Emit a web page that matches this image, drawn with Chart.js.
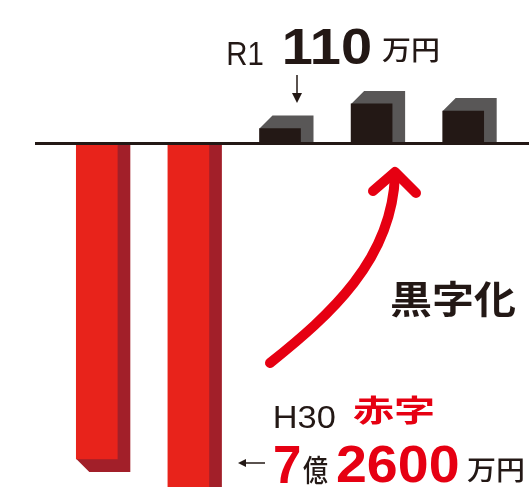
<!DOCTYPE html>
<html>
<head>
<meta charset="utf-8">
<script src="https://cdn.jsdelivr.net/npm/chart.js@4/dist/chart.umd.min.js"></script>
<style>
  html, body { margin: 0; padding: 0; background: #fff; }
  #wrap { width: 529px; height: 487px; }
</style>
</head>
<body>
<div id="wrap"><canvas id="myChart" width="529" height="487"></canvas></div>
<script>
// fiscal years (H29 .. R3), values in 万円 as drawn (the picture is not to scale)
let years = ["H29", "H30", "R1", "R2", "R3"];
let values = [-2314, -72600, 110, 290, 238];

const DEPTH = 13;
const RED = "#e8231b", RED_SIDE = "#a21f29";
const DARK = "#231815", DARK_SIDE = "#595757";
const TEXT_RED = "#e60012";

// back faces for the fake 3D look, drawn before the bars
const depthPlugin = {
  id: "depth",
  beforeDatasetsDraw(chart) {
    const ctx = chart.ctx;
    const meta = chart.getDatasetMeta(0);
    ctx.save();
    ctx.beginPath();
    ctx.rect(0, chart.chartArea.top, chart.width, chart.chartArea.bottom);
    ctx.clip();
    meta.data.forEach((bar, i) => {
      const l = bar.x - bar.width / 2, r = bar.x + bar.width / 2;
      const dir = values[i] < 0 ? 1 : -1;
      ctx.fillStyle = values[i] < 0 ? RED_SIDE : DARK_SIDE;
      ctx.beginPath();
      ctx.moveTo(l, bar.y);
      ctx.lineTo(l + DEPTH, bar.y + dir * DEPTH);
      ctx.lineTo(r + DEPTH, bar.y + dir * DEPTH);
      ctx.lineTo(r + DEPTH, bar.base);
      ctx.lineTo(r, bar.base);
      ctx.closePath();
      ctx.fill();
    });
    ctx.restore();
  },
  afterDatasetsDraw(chart) {
    const ctx = chart.ctx;
    const y0 = chart.scales.y.getPixelForValue(0);
    ctx.save();
    ctx.strokeStyle = DARK;
    ctx.lineWidth = 3;
    ctx.beginPath();
    ctx.moveTo(35, y0);
    ctx.lineTo(529, y0);
    ctx.stroke();
    ctx.restore();
  }
};

// draw text so that its ink fills the box x0,y0 - x1,y1
function fitBox(ctx, text, font, color, x0, y0, x1, y1) {
  ctx.save();
  ctx.font = font;
  ctx.fillStyle = color;
  ctx.textBaseline = "alphabetic";
  ctx.textAlign = "left";
  const m = ctx.measureText(text);
  const w = m.actualBoundingBoxLeft + m.actualBoundingBoxRight;
  const h = m.actualBoundingBoxAscent + m.actualBoundingBoxDescent;
  ctx.translate(x0, y0);
  ctx.scale((x1 - x0) / w, (y1 - y0) / h);
  ctx.fillText(text, m.actualBoundingBoxLeft, m.actualBoundingBoxAscent);
  ctx.restore();
}

function arrowDown(ctx, x, y1, y2) {
  ctx.strokeStyle = DARK; ctx.fillStyle = DARK; ctx.lineWidth = 1.5;
  ctx.beginPath(); ctx.moveTo(x, y1); ctx.lineTo(x, y2 - 8); ctx.stroke();
  ctx.beginPath(); ctx.moveTo(x - 5, y2 - 10); ctx.lineTo(x + 5, y2 - 10); ctx.lineTo(x, y2); ctx.closePath(); ctx.fill();
}

function arrowLeft(ctx, x1, x2, y) {
  ctx.strokeStyle = DARK; ctx.fillStyle = DARK; ctx.lineWidth = 1.5;
  ctx.beginPath(); ctx.moveTo(x2, y); ctx.lineTo(x1 + 6, y); ctx.stroke();
  ctx.beginPath(); ctx.moveTo(x1 + 8, y - 4); ctx.lineTo(x1 + 8, y + 4); ctx.lineTo(x1, y); ctx.closePath(); ctx.fill();
}

const textPlugin = {
  id: "labels",
  afterDraw(chart) {
    const ctx = chart.ctx;
    const jp = '"Noto Sans CJK JP", sans-serif';
    const num = '"Liberation Sans", Arial, sans-serif';

    // R1 110万円
    fitBox(ctx, "R1", "32px " + num, DARK, 228, 42, 263, 65);
    fitBox(ctx, "110", "bold 52px " + num, DARK, 285, 28, 370, 65);
    fitBox(ctx, "万円", "500 29px " + jp, DARK, 382, 38, 438, 63);
    arrowDown(ctx, 297, 75, 103);

    // curved red arrow
    ctx.save();
    ctx.strokeStyle = TEXT_RED;
    ctx.lineWidth = 10;
    ctx.lineCap = "round";
    ctx.lineJoin = "round";
    ctx.beginPath();
    ctx.moveTo(270, 363);
    ctx.bezierCurveTo(330, 315, 392, 260, 395, 175);
    ctx.stroke();
    ctx.beginPath();
    ctx.moveTo(373, 191);
    ctx.lineTo(395, 172);
    ctx.lineTo(416, 193);
    ctx.stroke();
    ctx.restore();

    // 黒字化
    fitBox(ctx, "黒字化", "bold 42px " + jp, DARK, 391, 280, 516, 318);

    // H30 赤字
    fitBox(ctx, "H30", "30px " + num, DARK, 275, 407, 335, 428);
    fitBox(ctx, "赤字", "bold 38px " + jp, TEXT_RED, 353, 395, 433, 425);

    // ←7億2600万円
    arrowLeft(ctx, 238, 265, 463);
    fitBox(ctx, "7", "bold 53px " + num, TEXT_RED, 275, 445, 300, 483);
    fitBox(ctx, "億", "500 30px " + jp, DARK, 303, 455, 328, 485);
    fitBox(ctx, "2600", "bold 53px " + num, TEXT_RED, 337, 445, 458, 483);
    fitBox(ctx, "万円", "500 29px " + jp, DARK, 467, 458, 523, 483);
  }
};

const ctx = document.getElementById("myChart");

new Chart(ctx, {
  type: "bar",
  data: {
    labels: years,
    datasets: [
      {
        label: "",
        data: values,
        backgroundColor: values.map(v => v < 0 ? RED : DARK),
        barThickness: 41,
        borderWidth: 0,
      },
    ],
  },
  options: {
    responsive: false,
    animation: false,
    events: [],
    layout: { padding: { left: 51, right: 20, top: 0, bottom: 0 } },
    plugins: {
      legend: { display: false },
      tooltip: { enabled: false },
    },
    scales: {
      x: { display: false, grid: { display: false } },
      y: {
        display: false,
        min: -2519,
        max: 1052,
        grid: { display: false },
      },
    },
  },
  plugins: [depthPlugin, textPlugin],
});
</script>
</body>
</html>
